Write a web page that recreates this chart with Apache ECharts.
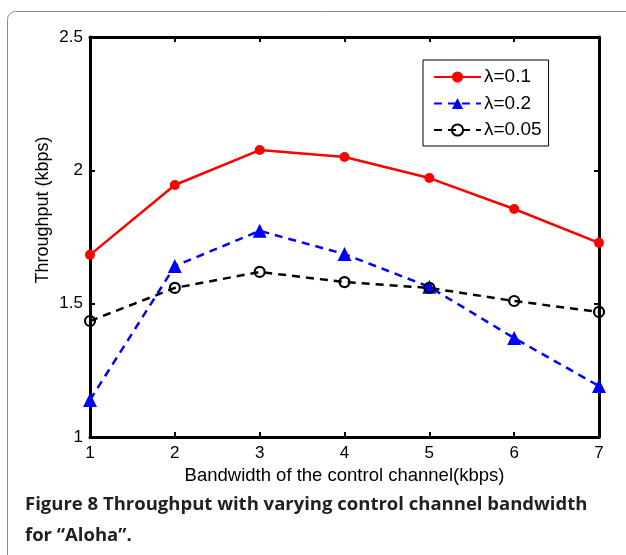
<!DOCTYPE html>
<html><head><meta charset="utf-8">
<script src="https://cdn.jsdelivr.net/npm/echarts@6/dist/echarts.min.js"></script>
<style>html,body{margin:0;padding:0;background:#fff}#c{width:626px;height:555px}</style>
</head><body><div id="c"></div>
<script>
const bandwidth = [1, 2, 3, 4, 5, 6, 7];
const lambda01 = [1.683, 1.945, 2.076, 2.050, 1.971, 1.855, 1.728];
const lambda02 = [1.139, 1.641, 1.773, 1.686, 1.563, 1.371, 1.191];
const lambda005 = [1.435, 1.559, 1.619, 1.581, 1.559, 1.510, 1.469];
const yTicks = [1, 1.5, 2, 2.5];
const seriesNames = ['λ=0.1', 'λ=0.2', 'λ=0.05'];

const chart = echarts.init(document.getElementById('c'), null, {renderer: 'canvas'});
const pairs = arr => arr.map((v, i) => [bandwidth[i], v]);
const tickFont = {fontFamily: 'Liberation Sans', fontSize: 17, color: '#000'};
const nameFont = {fontFamily: 'Liberation Sans', fontSize: 18.5, color: '#000'};
const edge = {color: '#000', width: 3};
const tick = {inside: true, length: 5, lineStyle: {color: '#000', width: 2}};
chart.setOption({
  animation: false,
  grid: {left: 90, right: 27, top: 37, bottom: 118, containLabel: false},
  xAxis: [{
    type: 'value', min: 1, max: 7, interval: 1,
    name: 'Bandwidth of the control channel(kbps)', nameLocation: 'middle', nameGap: 29,
    nameTextStyle: nameFont,
    axisLine: {lineStyle: edge}, axisTick: tick,
    axisLabel: Object.assign({margin: 8}, tickFont),
    splitLine: {show: false}
  }, {
    type: 'value', min: 1, max: 7, interval: 1, position: 'top',
    axisLine: {lineStyle: edge}, axisTick: tick,
    axisLabel: {show: false}, splitLine: {show: false}
  }],
  yAxis: [{
    type: 'value', min: 1, max: 2.5, interval: 0.5,
    axisLine: {show: true, lineStyle: edge}, axisTick: Object.assign({show: true}, tick),
    axisLabel: Object.assign({margin: 7, formatter: v => yTicks.includes(v) ? String(v) : ''}, tickFont),
    splitLine: {show: false}
  }, {
    type: 'value', min: 1, max: 2.5, interval: 0.5, position: 'right',
    axisLine: {show: true, lineStyle: edge}, axisTick: Object.assign({show: true}, tick),
    axisLabel: {show: false}, splitLine: {show: false}
  }],
  legend: {
    orient: 'vertical', left: 423, top: 60,
    padding: [7, 7, 6, 10], itemGap: 6.5, itemWidth: 47, itemHeight: 14,
    borderColor: '#000', borderWidth: 1, backgroundColor: '#fff',
    textStyle: {fontFamily: 'Liberation Sans', fontSize: 19, lineHeight: 20, color: '#000', padding: [0, 0, 0, -2]},
    data: seriesNames
  },
  series: [{
    name: seriesNames[0], type: 'line', data: pairs(lambda01),
    symbol: 'circle', symbolSize: 10,
    lineStyle: {color: '#ff0000', width: 2.5},
    itemStyle: {color: '#ff0000'}, z: 3
  }, {
    name: seriesNames[1], type: 'line', data: pairs(lambda02),
    symbol: 'triangle', symbolSize: 14,
    lineStyle: {color: '#0000ff', width: 2.5, type: [8, 6]},
    itemStyle: {color: '#0000ff'}, z: 2
  }, {
    name: seriesNames[2], type: 'line', data: pairs(lambda005),
    symbol: 'circle', symbolSize: 10,
    lineStyle: {color: '#000', width: 2.5, type: [8, 6]},
    itemStyle: {color: 'rgba(0,0,0,0)', borderColor: '#000', borderWidth: 2.2}, z: 2
  }],
  graphic: [{
    type: 'rect', shape: {x: 7.5, y: 11.5, width: 640, height: 600, r: 8},
    style: {fill: 'none', stroke: '#8a8a8a', lineWidth: 1}, silent: true, z: -1
  }, {
    type: 'text', x: 43.5, y: 210, rotation: Math.PI / 2,
    style: {text: 'Throughput (kbps)', font: '18px "Liberation Sans"', fill: '#000', align: 'center', verticalAlign: 'middle'}
  }, {
    type: 'text', x: 25, y: 505,
    style: {text: 'Figure 8 Throughput with varying control channel bandwidth', font: 'bold 18.5px "Open Sans"', fill: '#231f20', align: 'left', verticalAlign: 'middle'}
  }, {
    type: 'text', x: 25, y: 536,
    style: {text: 'for “Aloha”.', font: 'bold 18.5px "Open Sans"', fill: '#231f20', align: 'left', verticalAlign: 'middle'}
  }]
});
</script></body></html>
